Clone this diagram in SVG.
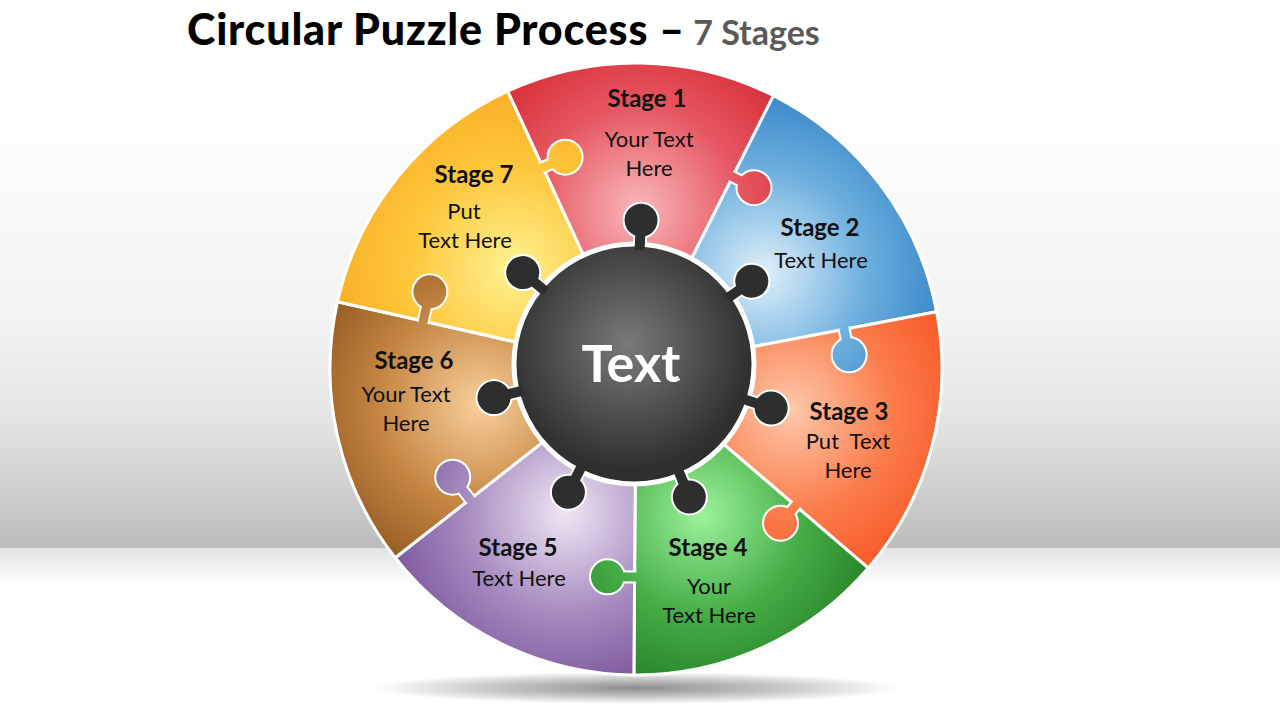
<svg xmlns="http://www.w3.org/2000/svg" width="1280" height="720" viewBox="0 0 1280 720">
<style>
.h{font-family:Lato,"Open Sans","Liberation Sans",sans-serif;font-weight:700;font-size:24px;fill:#111;text-anchor:middle}
.b{font-family:Lato,"Open Sans","Liberation Sans",sans-serif;font-size:22px;fill:#111;text-anchor:middle}
.seg{stroke:#fff;stroke-width:3;stroke-linejoin:round}
.tabo{stroke:#fff;stroke-width:4;stroke-linejoin:round}
.ck{fill:#2e2e2e}
</style>
<defs>
<linearGradient id="bg" x1="0" y1="95" x2="0" y2="548" gradientUnits="userSpaceOnUse">
<stop offset="0" stop-color="#ffffff"/><stop offset="0.5" stop-color="#f3f3f3"/><stop offset="0.72" stop-color="#e4e4e4"/><stop offset="1" stop-color="#bcbcbc"/>
</linearGradient>
<linearGradient id="floor" x1="0" y1="548" x2="0" y2="585" gradientUnits="userSpaceOnUse">
<stop offset="0" stop-color="#e2e2e2"/><stop offset="1" stop-color="#ffffff"/>
</linearGradient>
<radialGradient id="shadow" cx="0.5" cy="0.5" r="0.5">
<stop offset="0" stop-color="#000" stop-opacity="0.45"/><stop offset="0.6" stop-color="#000" stop-opacity="0.2"/><stop offset="1" stop-color="#000" stop-opacity="0"/>
</radialGradient>
<radialGradient id="g1" gradientUnits="userSpaceOnUse" cx="638.7" cy="209" r="225"><stop offset="0" stop-color="#f9b8bc"/><stop offset="0.45" stop-color="#e65862"/><stop offset="1" stop-color="#cf161e"/></radialGradient>
<radialGradient id="g2" gradientUnits="userSpaceOnUse" cx="763.7" cy="272.7" r="225"><stop offset="0" stop-color="#dff0fa"/><stop offset="0.45" stop-color="#6eb0de"/><stop offset="1" stop-color="#1b72bd"/></radialGradient>
<radialGradient id="g3" gradientUnits="userSpaceOnUse" cx="790.6" cy="410.1" r="225"><stop offset="0" stop-color="#fdc9ab"/><stop offset="0.45" stop-color="#fb7d4c"/><stop offset="1" stop-color="#f4430e"/></radialGradient>
<radialGradient id="g4" gradientUnits="userSpaceOnUse" cx="702.4" cy="514.6" r="225"><stop offset="0" stop-color="#9cf29c"/><stop offset="0.45" stop-color="#45ad45"/><stop offset="1" stop-color="#176a19"/></radialGradient>
<radialGradient id="g5" gradientUnits="userSpaceOnUse" cx="565.5" cy="512.6" r="225"><stop offset="0" stop-color="#f0e6f4"/><stop offset="0.45" stop-color="#a68bbf"/><stop offset="1" stop-color="#653b8a"/></radialGradient>
<radialGradient id="g6" gradientUnits="userSpaceOnUse" cx="479.9" cy="404.2" r="225"><stop offset="0" stop-color="#f9cf9c"/><stop offset="0.45" stop-color="#c58643"/><stop offset="1" stop-color="#7a420f"/></radialGradient>
<radialGradient id="g7" gradientUnits="userSpaceOnUse" cx="511.6" cy="268.4" r="225"><stop offset="0" stop-color="#fff392"/><stop offset="0.45" stop-color="#fdc73c"/><stop offset="1" stop-color="#f8a31a"/></radialGradient>
<radialGradient id="gc" gradientUnits="userSpaceOnUse" cx="628" cy="345" r="145"><stop offset="0" stop-color="#7a7a7a"/><stop offset="0.55" stop-color="#4a4a4a"/><stop offset="0.85" stop-color="#303030"/><stop offset="1" stop-color="#2c2c2c"/></radialGradient>
</defs>

<g id="background">
<rect x="0" y="0" width="1280" height="720" fill="#ffffff"/>
<rect x="0" y="95" width="1280" height="453" fill="url(#bg)"/>
<rect x="0" y="548" width="1280" height="37" fill="url(#floor)"/>
<ellipse cx="636" cy="688" rx="265" ry="16" fill="url(#shadow)"/>
</g>

<g id="title">
<text x="187" y="45" font-family="Lato,'Liberation Sans',sans-serif" font-weight="900" font-size="43" letter-spacing="0.8" fill="#000">Circular Puzzle Process –<tspan font-weight="700" font-size="34" letter-spacing="0" fill="#5a5a5a"> 7 Stages</tspan></text>
</g>

<g id="stage-1">
<path class="seg" fill="url(#g1)" d="M636,369 L507.6,91.2 A306,306 0 0 1 773.5,95.6 Z"/>
<text class="h" x="647" y="107">Stage 1</text>
<text class="b" x="649" y="147">Your Text</text>
<text class="b" x="649" y="176">Here</text>
</g>
<g id="stage-2">
<path class="seg" fill="url(#g2)" d="M636,369 L773.5,95.6 A306,306 0 0 1 936.6,311.7 Z"/>
<text class="h" x="820" y="236">Stage 2</text>
<text class="b" x="821" y="268">Text Here</text>
</g>
<g id="stage-3">
<path class="seg" fill="url(#g3)" d="M636,369 L936.6,311.7 A306,306 0 0 1 868.3,568.1 Z"/>
<text class="h" x="849" y="420">Stage 3</text>
<text class="b" x="848" y="449" xml:space="preserve">Put  Text</text>
<text class="b" x="848" y="478">Here</text>
</g>
<g id="stage-4">
<path class="seg" fill="url(#g4)" d="M636,369 L868.3,568.1 A306,306 0 0 1 633.9,675 Z"/>
<text class="h" x="708" y="556">Stage 4</text>
<text class="b" x="709" y="594">Your</text>
<text class="b" x="709" y="623">Text Here</text>
</g>
<g id="stage-5">
<path class="seg" fill="url(#g5)" d="M636,369 L633.9,675 A306,306 0 0 1 395.2,557.8 Z"/>
<text class="h" x="518" y="556">Stage 5</text>
<text class="b" x="519" y="586">Text Here</text>
</g>
<g id="stage-6">
<path class="seg" fill="url(#g6)" d="M636,369 L395.2,557.8 A306,306 0 0 1 337.5,301.7 Z"/>
<text class="h" x="414" y="369">Stage 6</text>
<text class="b" x="406" y="402">Your Text</text>
<text class="b" x="406" y="431">Here</text>
</g>
<g id="stage-7">
<path class="seg" fill="url(#g7)" d="M636,369 L337.5,301.7 A306,306 0 0 1 507.6,91.2 Z"/>
<text class="h" x="474" y="183">Stage 7</text>
<text class="b" x="464" y="219">Put</text>
<text class="b" x="465" y="248">Text Here</text>
</g>

<g id="puzzle-tabs">
<g id="tab-7-1">
<polygon class="tabo" fill="url(#g7)" points="541.0,163.4 563.2,153.1 567.0,161.3 544.8,171.6"/><circle class="tabo" fill="url(#g7)" cx="565.1" cy="157.2" r="16.5"/>
<polygon fill="url(#g7)" points="538.3,164.7 563.2,153.1 567.0,161.3 542.1,172.9"/><circle fill="url(#g7)" cx="565.1" cy="157.2" r="16.5"/>
</g>
<g id="tab-1-2">
<polygon class="tabo" fill="url(#g1)" points="734.6,172.9 756.0,183.7 752.0,191.7 730.6,180.9"/><circle class="tabo" fill="url(#g1)" cx="754.0" cy="187.7" r="16.5"/>
<polygon fill="url(#g1)" points="731.9,171.6 756.0,183.7 752.0,191.7 727.9,179.6"/><circle fill="url(#g1)" cx="754.0" cy="187.7" r="16.5"/>
</g>
<g id="tab-2-3">
<polygon class="tabo" fill="url(#g2)" points="848.6,328.5 853.5,354.0 844.7,355.6 839.8,330.1"/><circle class="tabo" fill="url(#g2)" cx="849.1" cy="354.8" r="16.5"/>
<polygon fill="url(#g2)" points="848.0,325.6 853.5,354.0 844.7,355.6 839.2,327.2"/><circle fill="url(#g2)" cx="849.1" cy="354.8" r="16.5"/>
</g>
<g id="tab-3-4">
<polygon class="tabo" fill="url(#g3)" points="798.9,508.6 783.9,526.1 777.1,520.3 792.1,502.8"/><circle class="tabo" fill="url(#g3)" cx="780.5" cy="523.2" r="16.5"/>
<polygon fill="url(#g3)" points="800.9,506.3 783.9,526.1 777.1,520.3 794.1,500.5"/><circle fill="url(#g3)" cx="780.5" cy="523.2" r="16.5"/>
</g>
<g id="tab-4-5">
<polygon class="tabo" fill="url(#g4)" points="634.5,581.5 607.5,581.3 607.5,572.3 634.5,572.5"/><circle class="tabo" fill="url(#g4)" cx="607.5" cy="576.8" r="16.5"/>
<polygon fill="url(#g4)" points="637.5,581.5 607.5,581.3 607.5,572.3 637.5,572.5"/><circle fill="url(#g4)" cx="607.5" cy="576.8" r="16.5"/>
</g>
<g id="tab-5-6">
<polygon class="tabo" fill="url(#g5)" points="466.5,502.0 449.2,480.0 456.2,474.4 473.5,496.4"/><circle class="tabo" fill="url(#g5)" cx="452.7" cy="477.2" r="16.5"/>
<polygon fill="url(#g5)" points="468.4,504.4 449.2,480.0 456.2,474.4 475.4,498.8"/><circle fill="url(#g5)" cx="452.7" cy="477.2" r="16.5"/>
</g>
<g id="tab-6-7">
<polygon class="tabo" fill="url(#g6)" points="418.9,320.1 425.5,290.8 434.3,292.8 427.7,322.1"/><circle class="tabo" fill="url(#g6)" cx="429.9" cy="291.8" r="16.5"/>
<polygon fill="url(#g6)" points="418.2,323.0 425.5,290.8 434.3,292.8 427.0,325.0"/><circle fill="url(#g6)" cx="429.9" cy="291.8" r="16.5"/>
</g>
</g>

<g id="center">
<g id="center-knob-outlines" transform="translate(634,364)">
<g transform="rotate(2.8)"><rect class="tabo ck" x="-5" y="-140" width="10" height="26"/><circle class="tabo ck" cx="0" cy="-144" r="16.5"/></g>
<g transform="rotate(54.9)"><rect class="tabo ck" x="-5" y="-140" width="10" height="26"/><circle class="tabo ck" cx="0" cy="-144" r="16.5"/></g>
<g transform="rotate(107.8)"><rect class="tabo ck" x="-5" y="-140" width="10" height="26"/><circle class="tabo ck" cx="0" cy="-144" r="16.5"/></g>
<g transform="rotate(157.4)"><rect class="tabo ck" x="-5" y="-140" width="10" height="26"/><circle class="tabo ck" cx="0" cy="-144" r="16.5"/></g>
<g transform="rotate(207.1)"><rect class="tabo ck" x="-5" y="-140" width="10" height="26"/><circle class="tabo ck" cx="0" cy="-144" r="16.5"/></g>
<g transform="rotate(256.5)"><rect class="tabo ck" x="-5" y="-140" width="10" height="26"/><circle class="tabo ck" cx="0" cy="-144" r="16.5"/></g>
<g transform="rotate(309.4)"><rect class="tabo ck" x="-5" y="-140" width="10" height="26"/><circle class="tabo ck" cx="0" cy="-144" r="16.5"/></g>
</g>
<circle cx="634" cy="364" r="120" fill="url(#gc)" stroke="#fff" stroke-width="5"/>
<g id="center-knob-fills" transform="translate(634,364)">
<g transform="rotate(2.8)"><rect class="ck" x="-5" y="-140" width="10" height="26"/><circle class="ck" cx="0" cy="-144" r="16.5"/></g>
<g transform="rotate(54.9)"><rect class="ck" x="-5" y="-140" width="10" height="26"/><circle class="ck" cx="0" cy="-144" r="16.5"/></g>
<g transform="rotate(107.8)"><rect class="ck" x="-5" y="-140" width="10" height="26"/><circle class="ck" cx="0" cy="-144" r="16.5"/></g>
<g transform="rotate(157.4)"><rect class="ck" x="-5" y="-140" width="10" height="26"/><circle class="ck" cx="0" cy="-144" r="16.5"/></g>
<g transform="rotate(207.1)"><rect class="ck" x="-5" y="-140" width="10" height="26"/><circle class="ck" cx="0" cy="-144" r="16.5"/></g>
<g transform="rotate(256.5)"><rect class="ck" x="-5" y="-140" width="10" height="26"/><circle class="ck" cx="0" cy="-144" r="16.5"/></g>
<g transform="rotate(309.4)"><rect class="ck" x="-5" y="-140" width="10" height="26"/><circle class="ck" cx="0" cy="-144" r="16.5"/></g>
</g>
<text x="631" y="382" font-family="Lato,'Open Sans','Liberation Sans',sans-serif" font-weight="700" font-size="52" fill="#ffffff" text-anchor="middle">Text</text>
</g>
</svg>
